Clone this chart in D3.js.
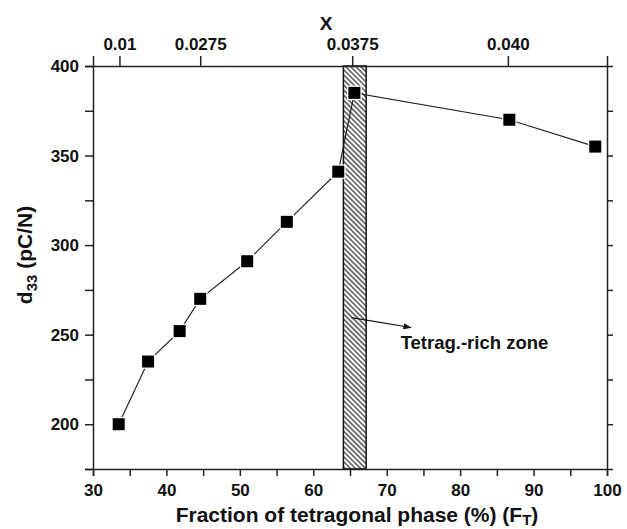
<!DOCTYPE html>
<html>
<head>
<meta charset="utf-8">
<script src="https://cdn.jsdelivr.net/npm/d3@7"></script>
<style>
  body { margin: 0; background: #fff; }
  text { font-family: "Liberation Sans", Arial, sans-serif; font-weight: bold; fill: #111; }
</style>
</head>
<body>
<div id="chart"></div>
<script>
// data
const fraction = [33.5, 37.5, 41.8, 44.6, 51.0, 56.4, 63.4, 65.6, 86.7, 98.4];
const d33 = [200, 235, 252, 270, 291, 313, 341, 385, 370, 355];
const topTickPos = [33.6, 44.6, 65.3, 86.5];
const topTickLabels = ["0.01", "0.0275", "0.0375", "0.040"];
const zone = [64.1, 67.2];
const xTicks = [30, 40, 50, 60, 70, 80, 90, 100];
const yTicks = [200, 250, 300, 350, 400];

const margin = {top: 66, right: 20, bottom: 60, left: 93},
      width = 627 - margin.left - margin.right,
      height = 529 - margin.top - margin.bottom;

const root = d3.select("#chart").append("svg")
  .attr("width", 627).attr("height", 529);

const defs = root.append("defs");
const hatch = defs.append("pattern")
  .attr("id", "hatch").attr("patternUnits", "userSpaceOnUse")
  .attr("width", 3.6).attr("height", 3.6)
  .attr("patternTransform", "rotate(-45)");
hatch.append("rect").attr("width", 3.6).attr("height", 3.6).attr("fill", "#fff");
hatch.append("line").attr("x1", 1.8).attr("y1", 0).attr("x2", 1.8).attr("y2", 3.6)
  .attr("stroke", "#111").attr("stroke-width", 1.1);

defs.append("marker").attr("id", "arrow")
  .attr("viewBox", "0 0 10 10").attr("refX", 9).attr("refY", 5)
  .attr("markerWidth", 7).attr("markerHeight", 7).attr("orient", "auto")
  .append("path").attr("d", "M0,1.5 L10,5 L0,8.5 z").attr("fill", "#111");

const svg = root.append("g").attr("transform", `translate(${margin.left},${margin.top})`);

const x = d3.scaleLinear().domain([30, 100]).range([0, width]);
const y = d3.scaleLinear().domain([175, 400]).range([height, 0]);

// hatched tetragonal-rich zone
svg.append("rect")
  .attr("x", x(zone[0])).attr("y", 0)
  .attr("width", x(zone[1]) - x(zone[0])).attr("height", height)
  .attr("fill", "url(#hatch)").attr("stroke", "#111").attr("stroke-width", 1.5);

// axes
const styleAxis = g => {
  g.select(".domain").attr("stroke", "#222").attr("stroke-width", 1.5);
  g.selectAll(".tick line").attr("stroke", "#222").attr("stroke-width", 1.5);
  g.selectAll("text").attr("fill", "#111").style("font-size", "17px")
    .style("font-family", '"Liberation Sans", Arial, sans-serif').style("font-weight", "bold");
};

svg.append("g").attr("transform", `translate(0,${height})`)
  .call(d3.axisBottom(x).tickValues(d3.range(30, 101, 5)).tickSize(7).tickPadding(8)
    .tickFormat(d => xTicks.includes(d) ? d : ""))
  .call(styleAxis);

svg.append("g")
  .call(d3.axisLeft(y).tickValues(d3.range(175, 401, 25)).tickSize(8).tickPadding(6)
    .tickFormat(d => yTicks.includes(d) ? d : ""))
  .call(styleAxis);

svg.append("g").attr("transform", `translate(${width},0)`)
  .call(d3.axisRight(y).tickValues(d3.range(200, 400, 25)).tickSize(6).tickFormat(""))
  .call(styleAxis);

svg.append("g")
  .call(d3.axisTop(x).tickValues(topTickPos).tickSize(10).tickPadding(6)
    .tickFormat((d, i) => topTickLabels[i]))
  .call(styleAxis);

// line and markers
const line = d3.line().x((d, i) => x(fraction[i])).y(d => y(d));
svg.append("path").datum(d33)
  .attr("d", line).attr("fill", "none").attr("stroke", "#222").attr("stroke-width", 1.2);

svg.selectAll(".pt").data(d33).enter().append("rect")
  .attr("class", "pt")
  .attr("x", (d, i) => x(fraction[i]) - 6)
  .attr("y", d => y(d) - 6)
  .attr("width", 12).attr("height", 12)
  .attr("fill", "#000").attr("stroke", "#fff").attr("stroke-width", 2.5)
  .attr("paint-order", "stroke");

// annotation
svg.append("line")
  .attr("x1", x(65.2)).attr("y1", y(259.5))
  .attr("x2", x(73.3)).attr("y2", y(254))
  .attr("stroke", "#111").attr("stroke-width", 1.2)
  .attr("marker-end", "url(#arrow)");
svg.append("text").attr("x", x(71.9)).attr("y", y(242))
  .style("font-size", "18.5px").text("Tetrag.-rich zone");

// axis titles
svg.append("text").attr("x", 326 - margin.left).attr("y", -36)
  .attr("text-anchor", "middle").style("font-size", "19px").text("X");

const xt = svg.append("text").attr("x", 357 - margin.left).attr("y", height + 53)
  .attr("text-anchor", "middle").style("font-size", "21px");
xt.append("tspan").text("Fraction of tetragonal phase (%) (F");
xt.append("tspan").attr("dy", 3).style("font-size", "15px").text("T");
xt.append("tspan").attr("dy", -3).text(")");

const yt = svg.append("text")
  .attr("transform", `translate(-61,${255 - margin.top}) rotate(-90)`)
  .attr("text-anchor", "middle").style("font-size", "21px");
yt.append("tspan").text("d");
yt.append("tspan").attr("dy", 5).style("font-size", "15px").text("33");
yt.append("tspan").attr("dy", -5).text(" (pC/N)");
</script>
</body>
</html>
